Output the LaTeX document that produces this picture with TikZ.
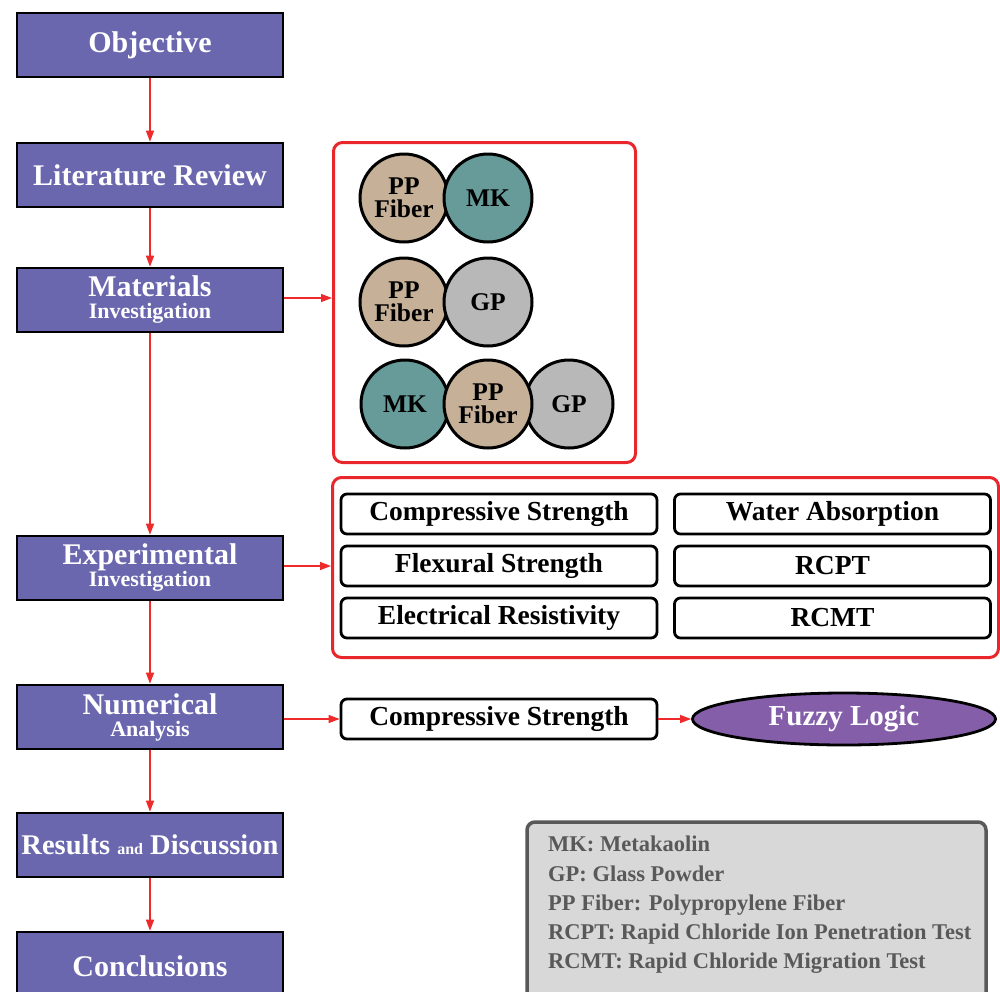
\documentclass[tikz,border=0pt]{standalone}
\usepackage{fontspec}
\setmainfont{Liberation Serif}
\usetikzlibrary{arrows.meta,shapes.geometric}
\definecolor{boxpurple}{HTML}{6B67AE}
\definecolor{arrred}{HTML}{EE2A2A}
\definecolor{frred}{HTML}{E8262C}
\definecolor{ppcol}{HTML}{C6B198}
\definecolor{mkcol}{HTML}{679B99}
\definecolor{gpcol}{HTML}{B8B8B8}
\definecolor{fuzzy}{HTML}{845EA8}
\definecolor{leggray}{HTML}{D8D8D8}
\definecolor{legtext}{HTML}{595959}
\begin{document}
\begin{tikzpicture}[x=1pt,y=-1pt,
  stage/.style={draw=black,line width=2.6pt,fill=boxpurple,minimum width=266pt,minimum height=64pt,
    text=white,font=\bfseries\fontsize{30}{31}\selectfont,align=center,inner sep=0pt},
  arr/.style={draw=arrred,line width=1.3pt,-{Triangle[length=11pt,width=8pt]}},
  frame/.style={draw=frred,line width=3pt,rounded corners=9pt,inner sep=0pt},
  ball/.style={circle,draw=black,line width=3pt,minimum size=88pt,inner sep=0pt,
    font=\bfseries\fontsize{25.5}{23}\selectfont,align=center},
  test/.style={draw=black,line width=2.8pt,rounded corners=6pt,fill=white,minimum width=316pt,
    minimum height=40pt,inner sep=0pt,font=\bfseries\fontsize{27.5}{28}\selectfont}]
\useasboundingbox (0,0) rectangle (1000,991);
\fill[white] (0,0) rectangle (1000,991);
% left column
\node[stage] (obj) at (150,45) {Objective};
\node[stage] (lit) at (150,175) {Literature Review};
\node[stage] (mat) at (150,300) {Materials\\[-9pt]{\fontsize{22}{22}\selectfont Investigation}};
\node[stage] (exp) at (150,568) {Experimental\\[-9pt]{\fontsize{22}{22}\selectfont Investigation}};
\node[stage] (num) at (150,717) {Numerical\\[-9pt]{\fontsize{22}{22}\selectfont Analysis}};
\node[stage,font=\bfseries\fontsize{28.5}{30}\selectfont] (res) at (150,845) {Results {\fontsize{16}{16}\selectfont and} Discussion};
\node[stage,minimum height=68pt] (con) at (150,966) {Conclusions};
\draw[arr] (obj.south) -- (lit.north);
\draw[arr] (lit.south) -- (mat.north);
\draw[arr] (mat.south) -- (exp.north);
\draw[arr] (exp.south) -- (num.north);
\draw[arr] (num.south) -- (res.north);
\draw[arr] (res.south) -- (con.north);
% materials frame
\node[frame,minimum width=302pt,minimum height=320pt] (mbox) at (484.5,302.5) {};
\node[ball,fill=ppcol] (p1) at (404,198) {PP\\Fiber};
\node[ball,fill=mkcol] (m1) at (488,198) {MK};
\node[ball,fill=ppcol] (p2) at (404,302) {PP\\Fiber};
\node[ball,fill=gpcol] (g2) at (488,302) {GP};
\node[ball,fill=mkcol] (m3) at (405,404) {MK};
\node[ball,fill=gpcol] (g3) at (569,404) {GP};
\node[ball,fill=ppcol] (p3) at (488,404) {PP\\Fiber};
\draw[arr] ([yshift=2pt]mat.east) -- ([yshift=2pt]mat.east -| mbox.west);
% experimental frame
\node[frame,minimum width=666pt,minimum height=180pt] (ebox) at (665.5,567.5) {};
\node[test] (t1) at (499,514) {Compressive Strength};
\node[test] (t2) at (499,566) {Flexural Strength};
\node[test] (t3) at (499,618) {Electrical Resistivity};
\node[test] (t4) at (832.5,514) {Water Absorption};
\node[test] (t5) at (832.5,566) {RCPT};
\node[test] (t6) at (832.5,618) {RCMT};
\draw[arr] ([yshift=2pt]exp.east) -- ([yshift=2pt]exp.east -| ebox.west);
% numerical
\node[test] (nc) at (499,719) {Compressive Strength};
\node[ellipse,draw=black,line width=2.8pt,fill=fuzzy,minimum width=303pt,minimum height=52pt,inner sep=0pt,
  text=white,font=\bfseries\fontsize{29}{30}\selectfont] (fz) at (844,719) {Fuzzy Logic};
\draw[arr] (num.east |- nc.west) -- (nc.west);
\draw[arr] (nc.east) -- (fz.west);
% legend
\node[draw=legtext,line width=3.5pt,fill=leggray,rounded corners=8pt,minimum width=459pt,minimum height=180pt,inner sep=0pt] (leg) at (756.5,912) {};
\node[anchor=north west,align=left,text=legtext,font=\bfseries\fontsize{22.5}{29.25}\selectfont,inner sep=0pt] (legt) at (548,836)
 {MK: Metakaolin\\GP: Glass Powder\\PP Fiber: Polypropylene Fiber\\RCPT: Rapid Chloride Ion Penetration Test\\RCMT: Rapid Chloride Migration Test};
\end{tikzpicture}
\end{document}
